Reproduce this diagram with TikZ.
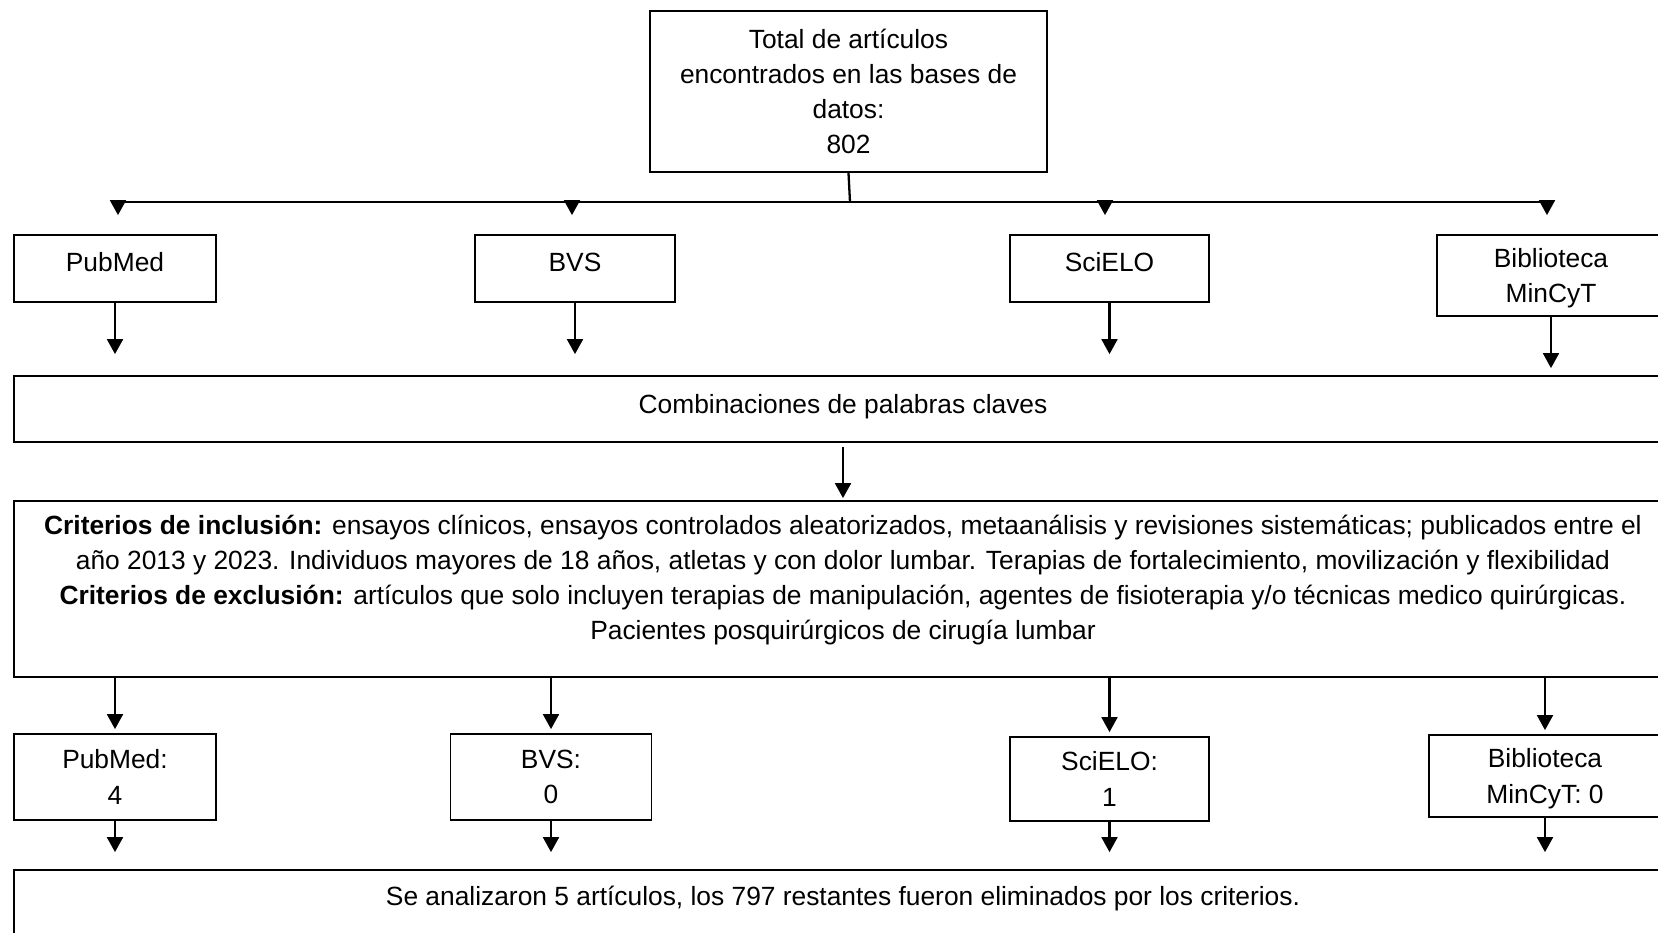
\documentclass[tikz,border=0pt]{standalone}
\usepackage{fontspec}
\setmainfont{Liberation Sans}
\usepackage{tikz}
\usetikzlibrary{shapes,positioning,arrows.meta}
\tikzset{rec/.style={rectangle,draw,line width=1pt,align=center,inner sep=0pt,font=\fontsize{15}{20}\selectfont}}
\tikzset{arr/.style={->,line width=1.3pt}}
\tikzset{oneline/.style={text height=11pt,text depth=8pt}}

\begin{document}
\begin{tikzpicture}[>={Triangle[width=9pt,length=8.5pt]},x=0.02cm,y=-0.02cm]
    \useasboundingbox (0,0) rectangle (1658,933);
    \clip (0,0) rectangle (1658,933);

    \node[rec,minimum width=7.94cm,minimum height=3.22cm] (total)at (848.5,91.5) {Total de artículos\\encontrados en las bases de\\datos:\\802};

    \node[rec,oneline,minimum width=4.04cm,minimum height=1.34cm] (pm1)at (115,268.5) {PubMed};
    \node[rec,oneline,minimum width=4cm,minimum height=1.34cm] (bvs1)at (575,268.5) {BVS};
    \node[rec,oneline,minimum width=3.98cm,minimum height=1.34cm] (sci1)at (1109.5,268.5) {SciELO};
    \node[rec,text depth=-3.5pt,minimum width=4.56cm,minimum height=1.62cm] (bib1)at (1551,275.5) {Biblioteca\\MinCyT};

    \node[rec,text height=11pt,text depth=6.4pt,minimum width=33.16cm,minimum height=1.32cm] (comb)at (843,409) {Combinaciones de palabras claves};

    \node[rec,text depth=13pt,minimum width=33.16cm,minimum height=3.52cm] (crit)at (843,589) {\textbf{Criterios de inclusión:} ensayos clínicos, ensayos controlados aleatorizados, metaanálisis y revisiones sistemáticas; publicados entre el\\año 2013 y 2023. Individuos mayores de 18 años, atletas y con dolor lumbar. Terapias de fortalecimiento, movilización y flexibilidad\\\textbf{Criterios de exclusión:} artículos que solo incluyen terapias de manipulación, agentes de fisioterapia y/o técnicas medico quirúrgicas.\\Pacientes posquirúrgicos de cirugía lumbar};

    \node[rec,minimum width=4.04cm,minimum height=1.72cm] (pm2)at (115,777) {PubMed:\\4};
    \node[rec,minimum width=4.02cm,minimum height=1.72cm] (bvs2)at (551,777) {BVS:\\0};
    \node[rec,minimum width=3.98cm,minimum height=1.68cm] (sci2)at (1109.5,779) {SciELO:\\1};
    \node[rec,text depth=-3.5pt,minimum width=4.64cm,minimum height=1.64cm] (bib2)at (1545,776) {Biblioteca\\MinCyT: 0};

    \node[rec,text height=11pt,text depth=22pt,minimum width=33.16cm,minimum height=1.8cm] (fin)at (843,915) {Se analizaron 5 artículos, los 797 restantes fueron eliminados por los criterios.};

    % reparto a las bases
    \coordinate (sp) at (850,202);
    \coordinate (h1) at (118,202);
    \coordinate (h2) at (572,202);
    \coordinate (h3) at (1105,202);
    \coordinate (h4) at (1547,202);
    \draw [line width=1.3pt] (total.south) to [] (sp);
    \draw [line width=1.3pt] (h1) to [] (h4);
    \draw [arr,shorten >=0.38cm] (h1) to [] (h1 |- pm1.north);
    \draw [arr,shorten >=0.38cm] (h2) to [] (h2 |- bvs1.north);
    \draw [arr,shorten >=0.38cm] (h3) to [] (h3 |- sci1.north);
    \draw [arr,shorten >=0.38cm] (h4) to [] (h4 |- bib1.north);

    \draw [arr,shorten >=0.42cm] (pm1.south) to [] (pm1.south |- comb.north);
    \draw [arr,shorten >=0.42cm] (bvs1.south) to [] (bvs1.south |- comb.north);
    \draw [arr,shorten >=0.42cm] (sci1.south) to [] (sci1.south |- comb.north);
    \draw [arr,shorten >=0.14cm] (bib1.south) to [] (bib1.south |- comb.north);

    \draw [arr,shorten <=0.08cm,shorten >=0.04cm] (comb.south) to [] (crit.north);

    \draw [arr,shorten >=0.08cm] (crit.south -| pm2) to [] (pm2.north);
    \draw [arr,shorten >=0.08cm] (crit.south -| bvs2) to [] (bvs2.north);
    \draw [arr,shorten >=0.08cm] (crit.south -| sci2) to [] (sci2.north);
    \draw [arr,shorten >=0.08cm] (crit.south -| bib2) to [] (bib2.north);

    \draw [arr,shorten >=0.34cm] (pm2.south) to [] (pm2.south |- fin.north);
    \draw [arr,shorten >=0.34cm] (bvs2.south) to [] (bvs2.south |- fin.north);
    \draw [arr,shorten >=0.34cm] (sci2.south) to [] (sci2.south |- fin.north);
    \draw [arr,shorten >=0.34cm] (bib2.south) to [] (bib2.south |- fin.north);
\end{tikzpicture}
\end{document}
